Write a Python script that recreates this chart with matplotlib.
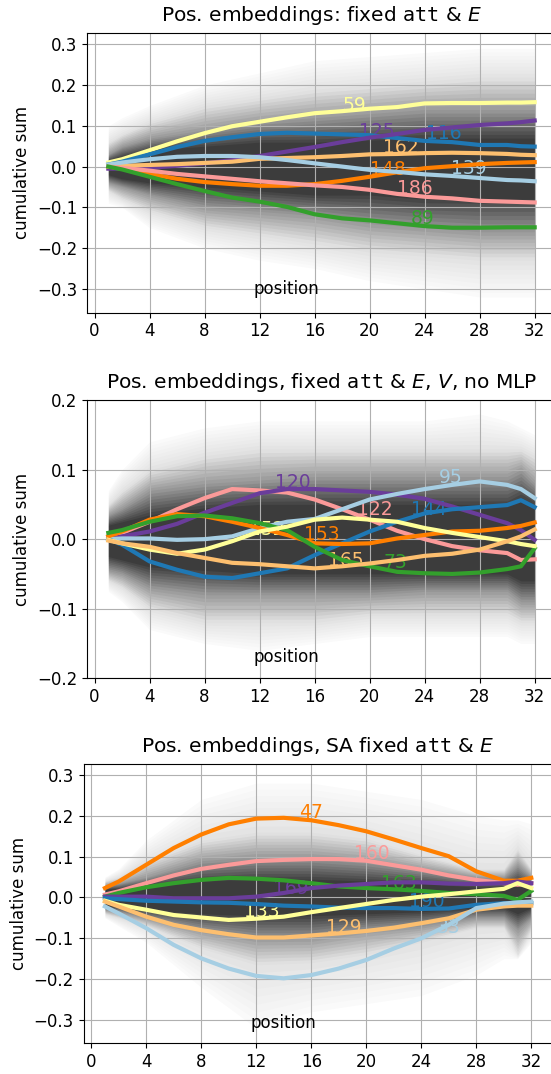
import matplotlib
matplotlib.use("Agg")
import matplotlib.pyplot as plt
import numpy as np

# positions along the sequence at which the highlighted curves were read
X = [1, 2, 4, 6, 8, 10, 12, 14, 16, 18, 20, 22, 24, 26, 28, 30, 31, 32]

# --- panel 1: fixed att & E ---
P1_59 = [0.010, 0.018, 0.040, 0.062, 0.082, 0.099, 0.110, 0.121, 0.131, 0.136, 0.142, 0.146, 0.155, 0.156, 0.156, 0.157, 0.157, 0.158]
P1_116 = [0.005, 0.012, 0.030, 0.048, 0.063, 0.072, 0.080, 0.083, 0.081, 0.079, 0.077, 0.070, 0.063, 0.060, 0.053, 0.053, 0.050, 0.049]
P1_125 = [-0.005, -0.005, -0.003, 0.002, 0.008, 0.016, 0.026, 0.037, 0.048, 0.060, 0.071, 0.080, 0.090, 0.096, 0.102, 0.106, 0.109, 0.113]
P1_162 = [0.000, 0.002, 0.004, 0.006, 0.009, 0.012, 0.019, 0.021, 0.023, 0.026, 0.030, 0.031, 0.033, 0.034, 0.033, 0.031, 0.029, 0.028]
P1_148 = [0.000, -0.005, -0.018, -0.030, -0.038, -0.043, -0.047, -0.047, -0.043, -0.035, -0.025, -0.014, -0.004, 0.001, 0.006, 0.009, 0.010, 0.011]
P1_139 = [0.005, 0.010, 0.018, 0.024, 0.026, 0.026, 0.023, 0.016, 0.008, 0.000, -0.008, -0.013, -0.019, -0.023, -0.028, -0.033, -0.034, -0.036]
P1_186 = [0.000, -0.003, -0.010, -0.018, -0.024, -0.030, -0.036, -0.041, -0.046, -0.050, -0.057, -0.067, -0.074, -0.078, -0.084, -0.086, -0.087, -0.088]
P1_89 = [0.000, -0.007, -0.025, -0.043, -0.060, -0.076, -0.086, -0.099, -0.117, -0.127, -0.132, -0.139, -0.146, -0.150, -0.150, -0.149, -0.149, -0.149]

# --- panel 2: fixed att & E, V, no MLP ---
P2_122 = [0.004, 0.009, 0.025, 0.043, 0.059, 0.072, 0.070, 0.067, 0.057, 0.043, 0.028, 0.012, 0.000, -0.010, -0.016, -0.020, -0.030, -0.029]
P2_120 = [0.000, 0.004, 0.011, 0.022, 0.038, 0.052, 0.066, 0.072, 0.072, 0.070, 0.068, 0.064, 0.058, 0.047, 0.035, 0.023, 0.013, -0.001]
P2_95 = [0.000, 0.001, 0.001, -0.001, 0.000, 0.004, 0.016, 0.025, 0.029, 0.043, 0.057, 0.065, 0.072, 0.078, 0.083, 0.078, 0.072, 0.059]
P2_144 = [0.000, -0.008, -0.032, -0.044, -0.054, -0.056, -0.049, -0.042, -0.023, -0.006, 0.011, 0.025, 0.037, 0.043, 0.046, 0.049, 0.056, 0.046]
P2_153 = [0.004, 0.011, 0.028, 0.036, 0.033, 0.025, 0.016, 0.006, -0.006, -0.007, -0.006, 0.001, 0.006, 0.011, 0.012, 0.016, 0.019, 0.024]
P2_73 = [0.009, 0.013, 0.025, 0.033, 0.034, 0.030, 0.023, 0.013, -0.011, -0.030, -0.039, -0.047, -0.049, -0.050, -0.048, -0.043, -0.039, -0.013]
P2_152 = [-0.001, -0.006, -0.015, -0.021, -0.015, -0.003, 0.011, 0.018, 0.028, 0.031, 0.028, 0.025, 0.016, 0.009, 0.003, -0.003, -0.007, -0.010]
P2_165 = [-0.002, -0.006, -0.011, -0.020, -0.027, -0.034, -0.036, -0.039, -0.042, -0.039, -0.035, -0.030, -0.024, -0.021, -0.015, -0.003, 0.004, 0.014]

# --- panel 3: SA fixed att & E ---
P3_47 = [0.023, 0.039, 0.080, 0.121, 0.154, 0.179, 0.193, 0.195, 0.189, 0.177, 0.162, 0.142, 0.121, 0.101, 0.064, 0.041, 0.041, 0.048]
P3_160 = [0.007, 0.015, 0.035, 0.054, 0.070, 0.080, 0.089, 0.092, 0.094, 0.094, 0.090, 0.079, 0.068, 0.054, 0.043, 0.035, 0.031, 0.035]
P3_163 = [0.002, 0.011, 0.025, 0.035, 0.043, 0.048, 0.046, 0.042, 0.035, 0.027, 0.023, 0.020, 0.016, 0.011, 0.008, 0.004, -0.006, 0.016]
P3_169 = [0.002, 0.002, 0.002, -0.002, -0.002, -0.002, 0.002, 0.011, 0.023, 0.029, 0.033, 0.037, 0.037, 0.034, 0.033, 0.035, 0.039, 0.035]
P3_190 = [-0.002, -0.004, -0.008, -0.010, -0.012, -0.013, -0.016, -0.020, -0.022, -0.025, -0.026, -0.026, -0.028, -0.027, -0.018, -0.014, -0.013, -0.014]
P3_133 = [-0.008, -0.018, -0.030, -0.043, -0.049, -0.055, -0.052, -0.047, -0.036, -0.026, -0.016, -0.006, 0.002, 0.008, 0.015, 0.021, 0.035, 0.023]
P3_129 = [-0.010, -0.022, -0.047, -0.067, -0.080, -0.090, -0.098, -0.098, -0.093, -0.088, -0.082, -0.074, -0.063, -0.051, -0.030, -0.022, -0.020, -0.020]
P3_33 = [-0.022, -0.039, -0.075, -0.116, -0.149, -0.174, -0.192, -0.198, -0.190, -0.174, -0.153, -0.125, -0.100, -0.067, -0.026, -0.015, -0.012, -0.010]

# envelope of the faint background curves (all other indices), outer -> core
BAND_X = [1, 2, 4, 8, 12, 16, 20, 24, 28, 30, 31, 32]
P1_OUT_HI = [0.10, 0.12, 0.15, 0.20, 0.23, 0.26, 0.27, 0.28, 0.29, 0.29, 0.29, 0.29]
P1_OUT_LO = [-0.09, -0.10, -0.15, -0.20, -0.23, -0.25, -0.28, -0.30, -0.32, -0.32, -0.32, -0.32]
P1_MID_HI = [0.06, 0.08, 0.11, 0.15, 0.17, 0.19, 0.20, 0.21, 0.22, 0.22, 0.22, 0.22]
P1_MID_LO = [-0.06, -0.08, -0.11, -0.15, -0.17, -0.19, -0.21, -0.22, -0.23, -0.23, -0.23, -0.23]
P1_IN_HI = [0.03, 0.05, 0.07, 0.09, 0.11, 0.12, 0.13, 0.14, 0.14, 0.14, 0.14, 0.14]
P1_IN_LO = [-0.04, -0.05, -0.07, -0.10, -0.11, -0.12, -0.14, -0.15, -0.16, -0.16, -0.16, -0.16]
P1_CORE_HI = [0.015, 0.025, 0.04, 0.05, 0.06, 0.06, 0.065, 0.07, 0.07, 0.07, 0.07, 0.07]
P1_CORE_LO = [-0.02, -0.03, -0.04, -0.05, -0.06, -0.07, -0.07, -0.08, -0.08, -0.08, -0.08, -0.08]

P2_OUT_HI = [0.07, 0.10, 0.14, 0.16, 0.17, 0.17, 0.17, 0.17, 0.18, 0.17, 0.16, 0.15]
P2_OUT_LO = [-0.075, -0.09, -0.13, -0.15, -0.16, -0.15, -0.14, -0.14, -0.14, -0.14, -0.15, -0.15]
P2_MID_HI = [0.05, 0.07, 0.10, 0.12, 0.13, 0.13, 0.13, 0.13, 0.13, 0.13, 0.13, 0.12]
P2_MID_LO = [-0.06, -0.07, -0.10, -0.12, -0.12, -0.12, -0.11, -0.11, -0.11, -0.11, -0.12, -0.12]
P2_IN_HI = [0.035, 0.045, 0.07, 0.08, 0.085, 0.09, 0.09, 0.09, 0.09, 0.09, 0.10, 0.08]
P2_IN_LO = [-0.045, -0.05, -0.07, -0.08, -0.08, -0.08, -0.08, -0.075, -0.075, -0.075, -0.09, -0.09]
P2_CORE_HI = [0.02, 0.025, 0.035, 0.045, 0.05, 0.05, 0.05, 0.05, 0.05, 0.05, 0.06, 0.05]
P2_CORE_LO = [-0.025, -0.03, -0.04, -0.045, -0.05, -0.05, -0.05, -0.05, -0.05, -0.05, -0.06, -0.06]

P3_OUT_HI = [0.05, 0.07, 0.14, 0.24, 0.28, 0.28, 0.26, 0.24, 0.20, 0.19, 0.19, 0.18]
P3_OUT_LO = [-0.05, -0.07, -0.11, -0.22, -0.32, -0.28, -0.26, -0.24, -0.19, -0.15, -0.15, -0.11]
P3_MID_HI = [0.04, 0.05, 0.09, 0.14, 0.16, 0.16, 0.145, 0.105, 0.07, 0.07, 0.12, 0.07]
P3_MID_LO = [-0.04, -0.05, -0.07, -0.125, -0.165, -0.16, -0.14, -0.11, -0.075, -0.075, -0.14, -0.08]
P3_IN_HI = [0.03, 0.035, 0.05, 0.09, 0.10, 0.10, 0.09, 0.07, 0.05, 0.05, 0.08, 0.05]
P3_IN_LO = [-0.03, -0.035, -0.05, -0.08, -0.10, -0.10, -0.08, -0.07, -0.05, -0.05, -0.08, -0.05]
P3_CORE_HI = [0.02, 0.022, 0.03, 0.04, 0.045, 0.045, 0.04, 0.035, 0.025, 0.025, 0.04, 0.025]
P3_CORE_LO = [-0.02, -0.022, -0.03, -0.04, -0.045, -0.045, -0.04, -0.035, -0.025, -0.025, -0.04, -0.025]

# Paired colours
C_LBLUE, C_BLUE, C_GREEN, C_PINK = "#a6cee3", "#1f78b4", "#33a02c", "#fb9a99"
C_LORANGE, C_ORANGE, C_PURPLE, C_YELLOW = "#fdbf6f", "#ff7f00", "#6a3d9a", "#ffff99"

panels = [
    {
        "title": r"Pos. embeddings: fixed $\mathtt{att}$ & $E$",
        "pos": [87 / 551, 761.5 / 1074, 469 / 551, 279.2 / 1074],
        "ylim": (-0.358, 0.327),
        "yticks": [-0.3, -0.2, -0.1, 0.0, 0.1, 0.2, 0.3],
        "xlab_y": 0.084,
        "bands": [(P1_OUT_LO, P1_OUT_HI), (P1_MID_LO, P1_MID_HI), (P1_IN_LO, P1_IN_HI), (P1_CORE_LO, P1_CORE_HI)],
        "lines": [
            (P1_59, C_YELLOW, "59", 18.0, 0.151),
            (P1_116, C_BLUE, "116", 24.1, 0.080),
            (P1_125, C_PURPLE, "125", 19.2, 0.086),
            (P1_162, C_LORANGE, "162", 21.0, 0.047),
            (P1_148, C_ORANGE, "148", 20.0, -0.006),
            (P1_139, C_LBLUE, "139", 25.9, -0.004),
            (P1_186, C_PINK, "186", 22.0, -0.053),
            (P1_89, C_GREEN, "89", 23.0, -0.127),
        ],
    },
    {
        "title": r"Pos. embeddings, fixed $\mathtt{att}$ & $E$, $V$, no MLP",
        "pos": [87 / 551, 395.7 / 1074, 469 / 551, 278.3 / 1074],
        "ylim": (-0.2, 0.2),
        "yticks": [-0.2, -0.1, 0.0, 0.1, 0.2],
        "xlab_y": 0.077,
        "bands": [(P2_OUT_LO, P2_OUT_HI), (P2_MID_LO, P2_MID_HI), (P2_IN_LO, P2_IN_HI), (P2_CORE_LO, P2_CORE_HI)],
        "lines": [
            (P2_122, C_PINK, "122", 19.1, 0.042),
            (P2_120, C_PURPLE, "120", 13.1, 0.082),
            (P2_95, C_LBLUE, "95", 25.0, 0.088),
            (P2_144, C_BLUE, "144", 23.0, 0.042),
            (P2_153, C_ORANGE, "153", 15.2, 0.006),
            (P2_73, C_GREEN, "73", 21.0, -0.034),
            (P2_152, C_YELLOW, "152", 11.2, 0.014),
            (P2_165, C_LORANGE, "165", 17.0, -0.030),
        ],
    },
    {
        "title": r"Pos. embeddings, SA fixed $\mathtt{att}$ & $E$",
        "pos": [83.6 / 551, 30.7 / 1074, 469 / 551, 279 / 1074],
        "ylim": (-0.357, 0.326),
        "yticks": [-0.3, -0.2, -0.1, 0.0, 0.1, 0.2, 0.3],
        "xlab_y": 0.073,
        "bands": [(P3_OUT_LO, P3_OUT_HI), (P3_MID_LO, P3_MID_HI), (P3_IN_LO, P3_IN_HI), (P3_CORE_LO, P3_CORE_HI)],
        "lines": [
            (P3_47, C_ORANGE, "47", 15.1, 0.209),
            (P3_160, C_PINK, "160", 19.1, 0.107),
            (P3_163, C_GREEN, "163", 21.1, 0.035),
            (P3_169, C_PURPLE, "169", 13.2, 0.023),
            (P3_190, C_BLUE, "190", 23.1, -0.010),
            (P3_133, C_YELLOW, "133", 11.1, -0.034),
            (P3_129, C_LORANGE, "129", 17.1, -0.074),
            (P3_33, C_LBLUE, "33", 25.1, -0.074),
        ],
    },
]

# darkness of the cloud reached at each envelope level (outer, mid, inner, core)
LEVEL_DARK = [0.02, 0.12, 0.4, 0.75]
STEPS = 8


def draw_cloud(ax, bands):
    # soft shading: blend each envelope into the next in small steps
    lo_arr = [np.array(lo) for lo, hi in bands]
    hi_arr = [np.array(hi) for lo, hi in bands]
    prev = 0.0
    for k in range(len(bands)):
        last = k == len(bands) - 1
        ts = [0.0] if last else np.linspace(0, 1, STEPS, endpoint=False)
        for t in ts:
            if last:
                lo, hi, d = lo_arr[k], hi_arr[k], LEVEL_DARK[k]
            else:
                lo = lo_arr[k] + t * (lo_arr[k + 1] - lo_arr[k])
                hi = hi_arr[k] + t * (hi_arr[k + 1] - hi_arr[k])
                d = LEVEL_DARK[k] + t * (LEVEL_DARK[k + 1] - LEVEL_DARK[k])
            a = 1 - (1 - d) / (1 - prev)
            ax.fill_between(BAND_X, lo, hi, color="k", alpha=a, linewidth=0, zorder=1)
            prev = d


fig = plt.figure(figsize=(5.51, 10.74), dpi=100)

for p in panels:
    ax = fig.add_axes(p["pos"])
    draw_cloud(ax, p["bands"])
    for ys, col, lab, tx, ty in p["lines"]:
        ax.plot(X, ys, color=col, lw=3, zorder=3)
        ax.text(tx, ty, lab, color=col, fontsize=13.5, ha="left", va="center", zorder=2.5)
    ax.set_xlim(-0.55, 33.55)
    ax.set_ylim(*p["ylim"])
    ax.set_xticks(range(0, 33, 4))
    ax.set_yticks(p["yticks"])
    ax.tick_params(labelsize=12)
    ax.grid(True)
    ax.set_ylabel("cumulative sum", fontsize=12)
    ax.text(0.426, p["xlab_y"], "position", transform=ax.transAxes,
            ha="center", va="center", fontsize=12)
    ax.set_title(p["title"], fontsize=14.5, pad=9)

fig.savefig("out.png", dpi=100)
